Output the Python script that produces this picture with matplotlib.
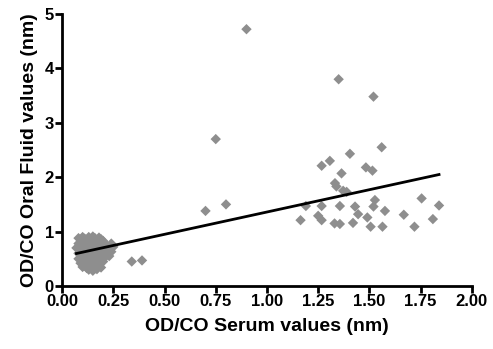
import matplotlib
matplotlib.use("Agg")
import matplotlib.pyplot as plt
import numpy as np

plt.rcParams['font.family'] = ['Liberation Sans', 'DejaVu Sans']

# Low-serum cluster
low_x = [0.08, 0.09, 0.10, 0.11, 0.12, 0.13, 0.14, 0.15, 0.16, 0.17, 0.18, 0.19, 0.20,
         0.08, 0.10, 0.12, 0.14, 0.16, 0.18, 0.20, 0.22, 0.24,
         0.07, 0.09, 0.11, 0.13, 0.15, 0.17, 0.19, 0.21, 0.23, 0.25,
         0.08, 0.10, 0.12, 0.14, 0.16, 0.18, 0.20, 0.22, 0.24,
         0.08, 0.10, 0.12, 0.14, 0.16, 0.18, 0.21, 0.23,
         0.09, 0.11, 0.13, 0.15, 0.17, 0.20,
         0.10, 0.12, 0.14, 0.16, 0.18,
         0.13, 0.15, 0.17, 0.19,
         0.34, 0.39]
low_y = [0.88, 0.85, 0.90, 0.87, 0.84, 0.90, 0.86, 0.91, 0.88, 0.84, 0.89, 0.86, 0.83,
         0.78, 0.80, 0.76, 0.79, 0.75, 0.80, 0.77, 0.74, 0.78,
         0.70, 0.68, 0.72, 0.66, 0.70, 0.67, 0.71, 0.65, 0.69, 0.72,
         0.60, 0.58, 0.62, 0.57, 0.61, 0.59, 0.56, 0.60, 0.63,
         0.50, 0.48, 0.52, 0.47, 0.51, 0.49, 0.53, 0.55,
         0.42, 0.40, 0.44, 0.39, 0.43, 0.45,
         0.35, 0.33, 0.36, 0.32, 0.38,
         0.30, 0.28, 0.31, 0.34,
         0.45, 0.47]

# Mid / high-serum samples
high_x = [0.90, 0.75, 0.80, 0.70,
          1.35, 1.52, 1.56, 1.405, 1.307, 1.267, 1.483, 1.515, 1.364, 1.332, 1.339,
          1.372, 1.389, 1.527, 1.755, 1.84, 1.356, 1.43, 1.52, 1.19, 1.267, 1.576,
          1.445, 1.668, 1.25, 1.267, 1.49, 1.81, 1.164, 1.33, 1.356, 1.42, 1.506,
          1.564, 1.72]
high_y = [4.72, 2.70, 1.50, 1.38,
          3.80, 3.48, 2.55, 2.43, 2.30, 2.21, 2.18, 2.12, 2.07, 1.89, 1.83,
          1.75, 1.73, 1.58, 1.61, 1.48, 1.47, 1.46, 1.46, 1.47, 1.47, 1.38,
          1.32, 1.31, 1.29, 1.21, 1.26, 1.23, 1.21, 1.15, 1.14, 1.16, 1.09,
          1.09, 1.09]

# Regression line parameters
fit_slope = 0.82
fit_intercept = 0.54
fit_range = [0.07, 1.84]

x_ticks = [0.00, 0.25, 0.50, 0.75, 1.00, 1.25, 1.50, 1.75, 2.00]
y_ticks = [0, 1, 2, 3, 4, 5]

fig = plt.figure(figsize=(4.93, 3.49), dpi=100)
ax = fig.add_axes([0.126, 0.1805, 0.831, 0.7795])

ax.scatter(low_x + high_x, low_y + high_y, marker='D', s=28, color='#8e8e8e',
           edgecolors='none', zorder=2)
fx = np.array(fit_range)
ax.plot(fx, fit_intercept + fit_slope * fx, color='black', lw=2, zorder=3)

ax.set_xlim(0, 2)
ax.set_ylim(0, 5)
ax.set_xticks(x_ticks)
ax.set_xticklabels([f"{v:.2f}" for v in x_ticks])
ax.set_yticks(y_ticks)
for s in ['top', 'right']:
    ax.spines[s].set_visible(False)
for s in ['left', 'bottom']:
    ax.spines[s].set_linewidth(2)
ax.tick_params(direction='out', length=5, width=2, labelsize=12, pad=1)
for lbl in ax.get_xticklabels() + ax.get_yticklabels():
    lbl.set_fontweight('bold')
ax.set_xlabel('OD/CO Serum values (nm)', fontsize=14, fontweight='bold', labelpad=6)
ax.set_ylabel('OD/CO Oral Fluid values (nm)', fontsize=14, fontweight='bold', labelpad=5)

fig.savefig('out.png', dpi=100)
